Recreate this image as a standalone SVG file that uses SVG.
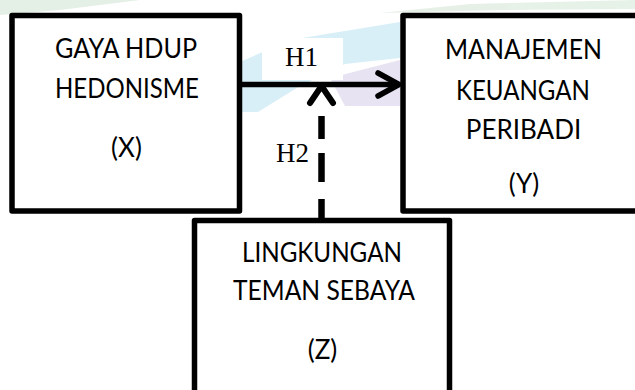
<svg xmlns="http://www.w3.org/2000/svg" width="635" height="390" viewBox="0 0 635 390">
<style>
.box{fill:#ffffff;stroke:#000000;stroke-width:5.5;stroke-linejoin:round}
.lbl{font-family:"Lato","Liberation Sans",sans-serif;font-size:26px;fill:#000000;text-anchor:middle}
.h{font-family:"Liberation Serif","Times New Roman",serif;font-size:27px;fill:#000000;text-anchor:middle}
.conn{fill:none;stroke:#000000;stroke-linecap:butt}
.head{fill:none;stroke:#000000;stroke-linecap:round;stroke-linejoin:round}
</style>
<rect x="0" y="0" width="635" height="390" fill="#ffffff"/>
<g id="watermark" opacity="0.6">
<polygon points="0,0 140,0 60,10 0,15" fill="#d3e5d6"/>
<polygon points="380,13 470,4 635,0 635,9 500,10" fill="#d6e7d8"/>
<polygon points="240,62 290,40 400,22 400,58 345,64 300,86 258,112 240,112" fill="#bfe6f3"/>
<polygon points="330,78 400,60 400,106 345,106" fill="#d8d2eb"/>
</g>
<rect x="262" y="38" width="81" height="42" fill="#ffffff"/>
<g id="connectors">
<g id="h1">
<line class="conn" x1="240" y1="84.5" x2="399" y2="84.5" stroke-width="5.5"/>
<polyline class="head" points="378,73 399,84.5 378,96" stroke-width="5.5"/>
</g>
<g id="h2">
<line class="conn" x1="321.5" y1="222" x2="321.5" y2="116" stroke-width="6.5" stroke-dasharray="23 17 29 14 23"/>
<polyline class="head" points="310,103 321.5,86 333,103" stroke-width="6"/>
</g>
</g>
<text class="h" x="301.5" y="66">H1</text>
<text class="h" x="292.5" y="162">H2</text>
<g id="node-x">
<rect class="box" x="12" y="15.5" width="227.5" height="195.5"/>
<text class="lbl" x="126" y="58" textLength="142" lengthAdjust="spacingAndGlyphs">GAYA HDUP</text>
<text class="lbl" x="127" y="98" textLength="144" lengthAdjust="spacingAndGlyphs">HEDONISME</text>
<text class="lbl" x="126.5" y="157">(X)</text>
</g>
<g id="node-y">
<rect class="box" x="403" y="15.5" width="250" height="195.5"/>
<text class="lbl" x="523.5" y="59" textLength="157" lengthAdjust="spacingAndGlyphs">MANAJEMEN</text>
<text class="lbl" x="523" y="100" textLength="134" lengthAdjust="spacingAndGlyphs">KEUANGAN</text>
<text class="lbl" x="523.5" y="139">PERIBADI</text>
<text class="lbl" x="524" y="193">(Y)</text>
</g>
<g id="node-z">
<rect class="box" x="194.5" y="220.5" width="255" height="190"/>
<text class="lbl" x="322" y="262" textLength="160" lengthAdjust="spacingAndGlyphs">LINGKUNGAN</text>
<text class="lbl" x="324" y="300" textLength="182" lengthAdjust="spacingAndGlyphs">TEMAN SEBAYA</text>
<text class="lbl" x="322.5" y="359">(Z)</text>
</g>
</svg>
